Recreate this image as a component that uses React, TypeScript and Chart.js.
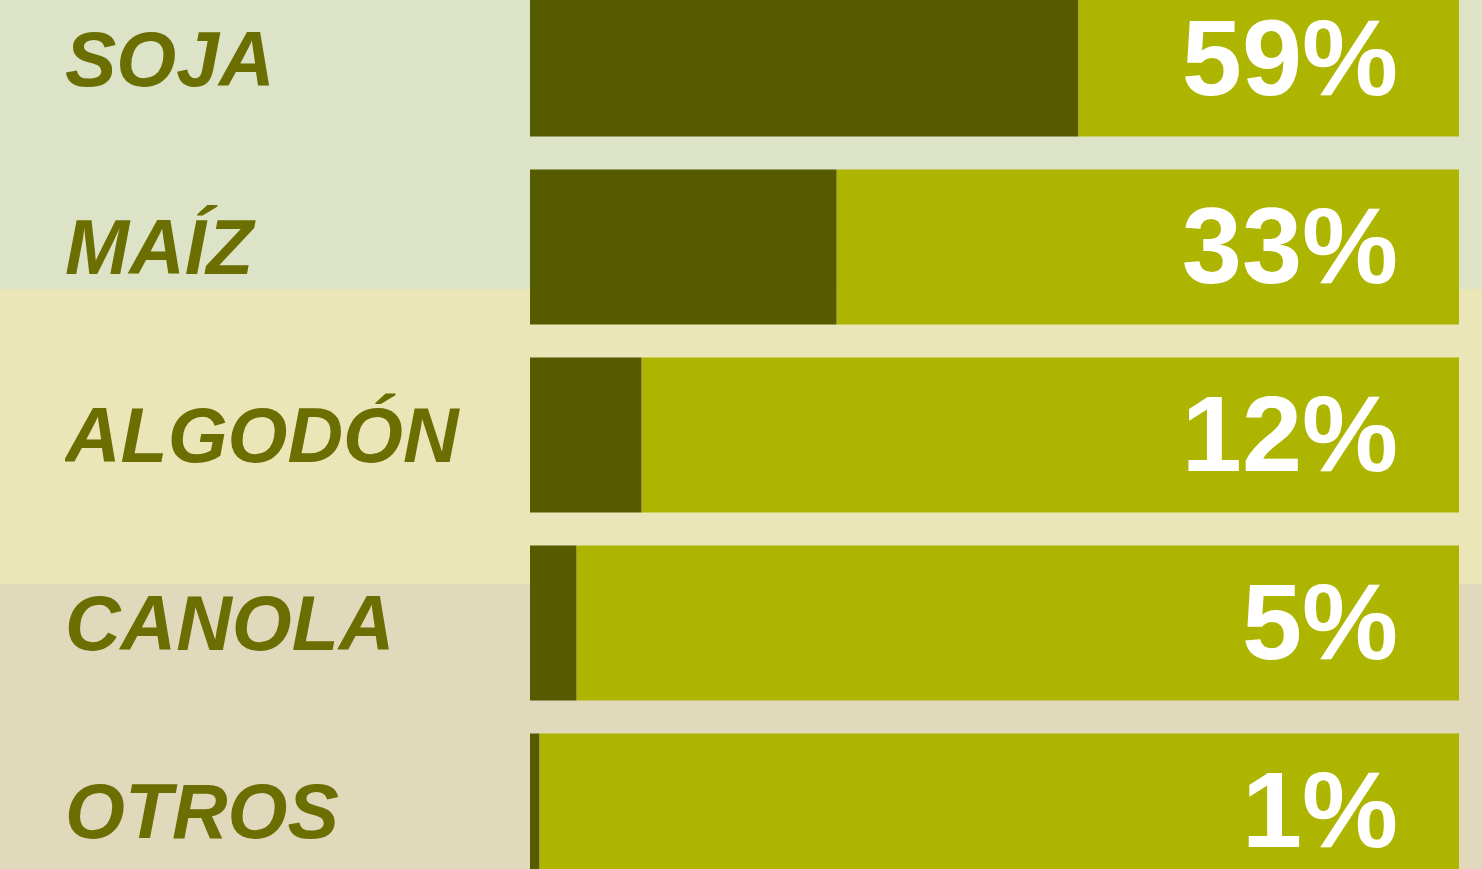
import React, { useEffect, useRef } from 'react';
import { Chart, registerables } from 'chart.js';

Chart.register(...registerables);

const crops = ['SOJA', 'MAÍZ', 'ALGODÓN', 'CANOLA', 'OTROS'];
const shares = [59, 33, 12, 5, 1];
const total = 100;

const darkOlive = '#565b00';
const lightOlive = '#adb500';
const labelColor = '#6b6e00';

const percentLabels = {
  id: 'percentLabels',
  afterDatasetsDraw(chart: Chart) {
    const { ctx, chartArea, scales } = chart;
    ctx.save();
    ctx.fillStyle = '#ffffff';
    ctx.font = 'bold 108px "Liberation Sans", Arial, sans-serif';
    ctx.textAlign = 'right';
    ctx.textBaseline = 'middle';
    shares.forEach((v, i) => {
      const y = scales.y.getPixelForValue(i) + 6;
      ctx.fillText(`${v}%`, chartArea.right - 61, y);
    });
    ctx.restore();
  },
};

export default function App() {
  const chartRef = useRef<HTMLCanvasElement>(null);
  const chartInstance = useRef<Chart | null>(null);

  useEffect(() => {
    if (!chartRef.current) return;
    if (chartInstance.current) chartInstance.current.destroy();

    chartInstance.current = new Chart(chartRef.current, {
      type: 'bar',
      data: {
        labels: crops,
        datasets: [
          {
            data: shares,
            backgroundColor: darkOlive,
            barPercentage: 0.825,
            categoryPercentage: 1,
          },
          {
            data: shares.map((v) => total - v),
            backgroundColor: lightOlive,
            barPercentage: 0.825,
            categoryPercentage: 1,
          },
        ],
      },
      options: {
        indexAxis: 'y',
        responsive: false,
        animation: false,
        devicePixelRatio: 1,
        layout: { padding: { left: 65, right: 23, top: 0, bottom: 0 } },
        plugins: {
          legend: { display: false },
          tooltip: { enabled: false },
        },
        scales: {
          x: {
            stacked: true,
            display: false,
            min: 0,
            max: total,
          },
          y: {
            stacked: true,
            grid: { display: false },
            border: { display: false },
            afterFit: (scale: any) => {
              scale.width = 465;
              // labels sit inside their bands, no extra room needed above/below
              scale.paddingTop = 0;
              scale.paddingBottom = 0;
            },
            ticks: {
              crossAlign: 'far',
              padding: 0,
              labelOffset: 6,
              color: labelColor,
              font: {
                family: '"Liberation Sans", Arial, sans-serif',
                size: 77,
                weight: 'bold',
                style: 'italic',
              },
            },
          },
        },
      },
      plugins: [percentLabels],
    });

    return () => {
      if (chartInstance.current) {
        chartInstance.current.destroy();
        chartInstance.current = null;
      }
    };
  }, []);

  return (
    <div
      style={{
        position: 'fixed',
        left: 0,
        top: 0,
        width: 1482,
        height: 869,
        overflow: 'hidden',
        background:
          'linear-gradient(to bottom, #dce3c6 0px, #dce3c6 289px, #ebe6b8 289px, #ebe6b8 584px, #e0d9bc 584px)',
      }}
    >
      <canvas
        ref={chartRef}
        width={1482}
        height={940}
        style={{ position: 'absolute', left: 0, top: -35, width: 1482, height: 940 }}
      />
    </div>
  );
}
